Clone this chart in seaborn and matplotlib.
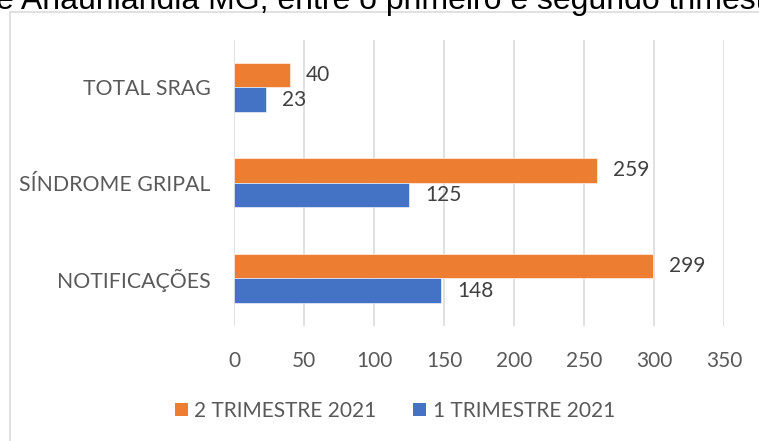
import matplotlib
matplotlib.use("Agg")
import matplotlib.pyplot as plt
from matplotlib.patches import Rectangle, Patch
import seaborn as sns
import pandas as pd

categories = ["TOTAL SRAG", "SÍNDROME GRIPAL", "NOTIFICAÇÕES"]
series_names = ["2 TRIMESTRE 2021", "1 TRIMESTRE 2021"]
values_t2 = [40, 259, 299]
values_t1 = [23, 125, 148]
x_ticks = [0, 50, 100, 150, 200, 250, 300, 350]
title_text = "e Anaurilândia MG, entre o primeiro e segundo trimestre de 2021"

colors = {"2 TRIMESTRE 2021": "#ED7D31", "1 TRIMESTRE 2021": "#4472C4"}

df = pd.DataFrame({
    "categoria": categories * 2,
    "serie": [series_names[0]] * 3 + [series_names[1]] * 3,
    "valor": values_t2 + values_t1,
})

sns.set_theme(style="white")
plt.rcParams["font.family"] = ["Lato", "DejaVu Sans"]

W, H = 759, 441
fig = plt.figure(figsize=(W / 100, H / 100), dpi=100)
ax = fig.add_axes([234 / W, 1 - 326 / H, 490 / W, (326 - 39.5) / H])

sns.barplot(data=df, y="categoria", x="valor", hue="serie", order=categories,
            hue_order=series_names, palette=colors, orient="h", width=0.515,
            saturation=1, ax=ax, legend=False, edgecolor="white", linewidth=0.4)

for cont in ax.containers:
    ax.bar_label(cont, padding=11.5, fontsize=15, color="#404040")

ax.set_xlim(0, 350)
ax.set_ylim(2.5, -0.5)
ax.set_xticks(x_ticks)
ax.set_xticklabels([str(t) for t in x_ticks])
ax.set_xlabel("")
ax.set_ylabel("")
ax.grid(axis="x", color="#d9d9d9", linewidth=1.1)
ax.set_axisbelow(True)
for s in ax.spines.values():
    s.set_visible(False)
ax.tick_params(axis="x", length=0, pad=18, labelsize=15, labelcolor="#595959")
ax.tick_params(axis="y", length=0, pad=17, labelsize=15.3, labelcolor="#595959")

# border of the chart area
fig.add_artist(Rectangle((10 / W, -0.2), 1.5, 1.2 - 12 / H, transform=fig.transFigure,
                         facecolor="none", edgecolor="#d9d9d9", linewidth=1.1,
                         clip_on=False, zorder=0))

# cropped title (only its lower part is visible, as in the reference)
fig.text(-4 / W, 1 - 9 / H, title_text, fontsize=23, va="baseline", ha="left",
         color="black", family=["Liberation Sans", "DejaVu Sans"])

handles = [Patch(facecolor=colors[n], edgecolor="none", label=n) for n in series_names]
fig.legend(handles=handles, loc="center", bbox_to_anchor=(395 / W, 1 - 411 / H),
           ncol=2, frameon=False, fontsize=15, labelcolor="#595959",
           handlelength=0.625, handleheight=0.625, handletextpad=0.3,
           columnspacing=1.76)

fig.savefig("out.png", dpi=100)
